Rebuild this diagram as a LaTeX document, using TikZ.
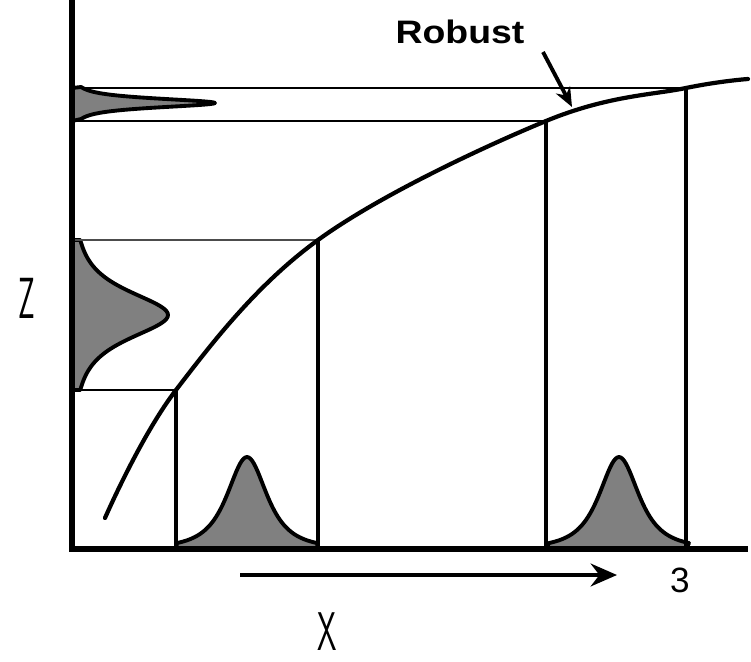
\documentclass[tikz,border=0pt]{standalone}
\usepackage{fontspec}
\newfontfamily\labelfont{Liberation Sans}
\usetikzlibrary{arrows.meta,calc}
\def\bellheight{92}
\def\bellwidth{30.7}

\begin{document}
\begin{tikzpicture}[x=0.02cm,y=-0.02cm,
    axis/.style={line width=3pt},
    guide/.style={line width=2.3pt},
    level/.style={line width=1.5pt},
    thinlevel/.style={line width=0.8pt,black!70},
    bell/.style={line width=2.2pt,fill=black!50,line join=round},
    response/.style={line width=2.4pt,line cap=round}]
  \useasboundingbox (0,0) rectangle (751,662);

  \coordinate (O) at (72,549);
  \coordinate (Ytop) at (72,0);
  \coordinate (Xend) at (748,549);

  % points on the response curve
  \coordinate (Cstart) at (105,518);
  \coordinate (PA) at (176,390);
  \coordinate (PB) at (318,240);
  \coordinate (PC) at (546,121);
  \coordinate (PD) at (686,88);
  \coordinate (Cend) at (748,79);

  % input distributions
  \draw[bell] (PA |- O) -- plot[domain=-70:70,samples=81]
    ({247+\x},{549-\bellheight/((1+(\x/\bellwidth)^2)*sqrt(1+(\x/\bellwidth)^2))})
    -- (PB |- O) -- cycle;
  \draw[bell] (PC |- O) -- plot[domain=-70:70,samples=81]
    ({619+\x},{549-\bellheight/((1+(\x/\bellwidth)^2)*sqrt(1+(\x/\bellwidth)^2))})
    -- (PD |- O) -- cycle;

  % output distributions
  \draw[bell] (PB -| O) -- plot[domain=-75:75,samples=81]
    ({72+96/((1+(\x/37)^2)*sqrt(1+(\x/37)^2))},{315+\x})
    -- (PA -| O) -- cycle;
  \draw[bell] (PD -| O) -- plot[domain=-16:16,samples=61]
    ({72+143/((1+(\x/7)^2)*sqrt(1+(\x/7)^2))},{103+\x})
    -- (PC -| O) -- cycle;

  % guide lines
  \draw[guide] (PA) -- (PA |- O);
  \draw[guide] (PB) -- (PB |- O);
  \draw[guide] (PC) -- (PC |- O);
  \draw[guide] (PD) -- (PD |- O);
  \draw[level] (PA) -- (PA -| O);
  \draw[thinlevel] (PB) -- (PB -| O);
  \draw[level] (PC) -- (PC -| O);
  \draw[level] (PD) -- (PD -| O);

  % axes
  \draw[axis] (Ytop) -- (O) -- (Xend);

  \draw[response] plot[smooth,tension=0.6] coordinates {(Cstart) (PA) (PB) (PC) (PD) (Cend)};

  % labels
  \node[inner sep=0pt,font=\labelfont\bfseries\fontsize{18.5}{20}\selectfont,xscale=1.15] (robust) at (460,32) {Robust};
  \coordinate (robustfoot) at (543,52);
  \coordinate (robusttip) at (572,107);
  \draw[line width=2.2pt,-{Stealth[length=11pt,width=9pt]}] (robustfoot) -- (robusttip);

  \node[inner sep=0pt,font=\sffamily\fontsize{33}{33}\selectfont,xscale=0.5] (zlabel) at (27,298) {Z};
  \node[inner sep=0pt,font=\sffamily\fontsize{31}{31}\selectfont,xscale=0.57] (xlabel) at (327,632) {X};

  \coordinate (drift start) at (240,575);
  \coordinate (drift end) at (617,575);
  \draw[line width=2.2pt,-{Stealth[length=15pt,width=13pt,inset=5pt]}] (drift start) -- (drift end);
  \node[inner sep=0pt,font=\labelfont\fontsize{20}{20}\selectfont] (three) at (680,580) {3};
\end{tikzpicture}
\end{document}
